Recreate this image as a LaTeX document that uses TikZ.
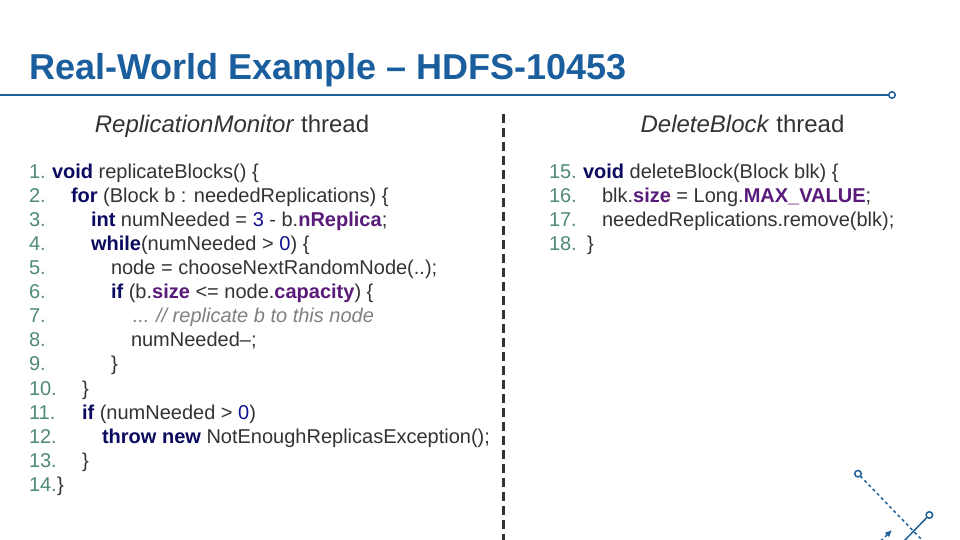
\documentclass[tikz,border=0pt]{standalone}
\usepackage{fontspec}
\setmainfont{Liberation Sans}
\usetikzlibrary{arrows.meta}
\definecolor{tblue}{HTML}{1B5E9E}
\definecolor{lblue}{HTML}{1F5F99}
\definecolor{numc}{HTML}{4F8A78}
\definecolor{kw}{HTML}{0A0A60}
\definecolor{fld}{HTML}{5A1A7A}
\definecolor{txt}{HTML}{333333}
\definecolor{cmt}{HTML}{808080}
\definecolor{lit}{HTML}{101090}
\newcommand{\K}[1]{\textcolor{kw}{\textbf{#1}}}
\newcommand{\F}[1]{\textcolor{fld}{\textbf{#1}}}
\newcommand{\Lt}[1]{\textcolor{lit}{#1}}
\tikzset{
  codeline/.style={anchor=base west,inner sep=0pt,outer sep=0pt,font=\fontsize{20}{24}\selectfont,text=txt},
  numline/.style={codeline,text=numc},
  head/.style={anchor=base,inner sep=0pt,font=\fontsize{24}{28}\selectfont,text=txt},
  ring/.style={circle,draw=lblue,fill=white,line width=1.5pt,minimum size=6.5pt,inner sep=0pt,outer sep=0pt},
  rule/.style={draw=lblue,line width=1.6pt},
  corner/.style={draw=lblue,line width=1.5pt}
}
\begin{document}
\begin{tikzpicture}[x=1pt,y=-1pt]
\useasboundingbox (0,0) rectangle (960,540);
\clip (0,0) rectangle (960,540);
\fill[white] (0,0) rectangle (960,540);
\node[anchor=base west,inner sep=0pt,text=tblue,font=\fontsize{36}{40}\selectfont\bfseries] (title) at (29,80) {Real-World Example – HDFS-10453};
\coordinate (ruleL) at (0,95);
\node[ring] (ruleR) at (892,95) {};
\draw[rule] (ruleL) -- (ruleR);
\coordinate (divT) at (503.5,114);
\coordinate (divB) at (503.5,540);
\draw[draw=txt,line width=3pt,dash pattern=on 9pt off 5pt] (divT) -- (divB);
\node[head] (hl) at (232,133) {\textit{ReplicationMonitor} thread};
\node[head] (hr) at (742.5,133) {\textit{DeleteBlock} thread};
% left numbers
\node[numline] (n1) at (29,178.5) {1.};
\node[numline] (n2) at (29,202.5) {2.};
\node[numline] (n3) at (29,226.5) {3.};
\node[numline] (n4) at (29,250.5) {4.};
\node[numline] (n5) at (29,274.5) {5.};
\node[numline] (n6) at (29,298.5) {6.};
\node[numline] (n7) at (29,322.5) {7.};
\node[numline] (n8) at (29,346.5) {8.};
\node[numline] (n9) at (29,370.5) {9.};
\node[numline] (n10) at (29,395) {10.};
\node[numline] (n11) at (29,419) {11.};
\node[numline] (n12) at (29,443) {12.};
\node[numline] (n13) at (29,467) {13.};
\node[numline] (n14) at (29,491) {14.};
% left code
\node[codeline] (c1) at (52,178.5) {\K{void} replicateBlocks() \{};
\node[codeline] (c2) at (71,202.5) {\K{for} (Block b : neededReplications) \{};
\node[codeline] (c3) at (91,226.5) {\K{int} numNeeded = \Lt{3} - b.\F{nReplica};};
\node[codeline] (c4) at (91,250.5) {\K{while}(numNeeded > \Lt{0}) \{};
\node[codeline] (c5) at (111,274.5) {node = chooseNextRandomNode(..);};
\node[codeline] (c6) at (111,298.5) {\K{if} (b.\F{size} <= node.\F{capacity}) \{};
\node[codeline,text=cmt] (c7) at (132,322.5) {... \textit{// replicate b to this node}};
\node[codeline] (c8) at (131,346.5) {numNeeded--;};
\node[codeline] (c9) at (111,370.5) {\}};
\node[codeline] (c10) at (82,395) {\}};
\node[codeline] (c11) at (82,419) {\K{if} (numNeeded > \Lt{0})};
\node[codeline] (c12) at (102,443) {\K{throw} \K{new} NotEnoughReplicasException();};
\node[codeline] (c13) at (82,467) {\}};
\node[codeline] (c14) at (57,491) {\}};
% right
\node[numline] (n15) at (549,178.5) {15.};
\node[numline] (n16) at (549,202.5) {16.};
\node[numline] (n17) at (549,226.5) {17.};
\node[numline] (n18) at (549,250.5) {18.};
\node[codeline] (c15) at (583,178.5) {\K{void} deleteBlock(Block blk) \{};
\node[codeline] (c16) at (602,202.5) {blk.\F{size} = Long.\F{MAX\_VALUE};};
\node[codeline] (c17) at (602,226.5) {neededReplications.remove(blk);};
\node[codeline] (c18) at (587,250.5) {\}};
% corner ornament
\node[ring] (ra) at (858,473.7) {};
\node[ring] (rb) at (929.3,515) {};
\coordinate (ae) at (923,541);
\coordinate (be) at (904,541);
\coordinate (cs) at (880.7,541);
\coordinate (ce) at (892,530);
\draw[corner,dash pattern=on 3pt off 3pt] (ra) -- (ae);
\draw[corner] (rb) -- (be);
\draw[corner,dash pattern=on 3pt off 3pt,-{Latex[length=7pt,width=6.5pt]}] (cs) -- (ce);
\end{tikzpicture}
\end{document}
